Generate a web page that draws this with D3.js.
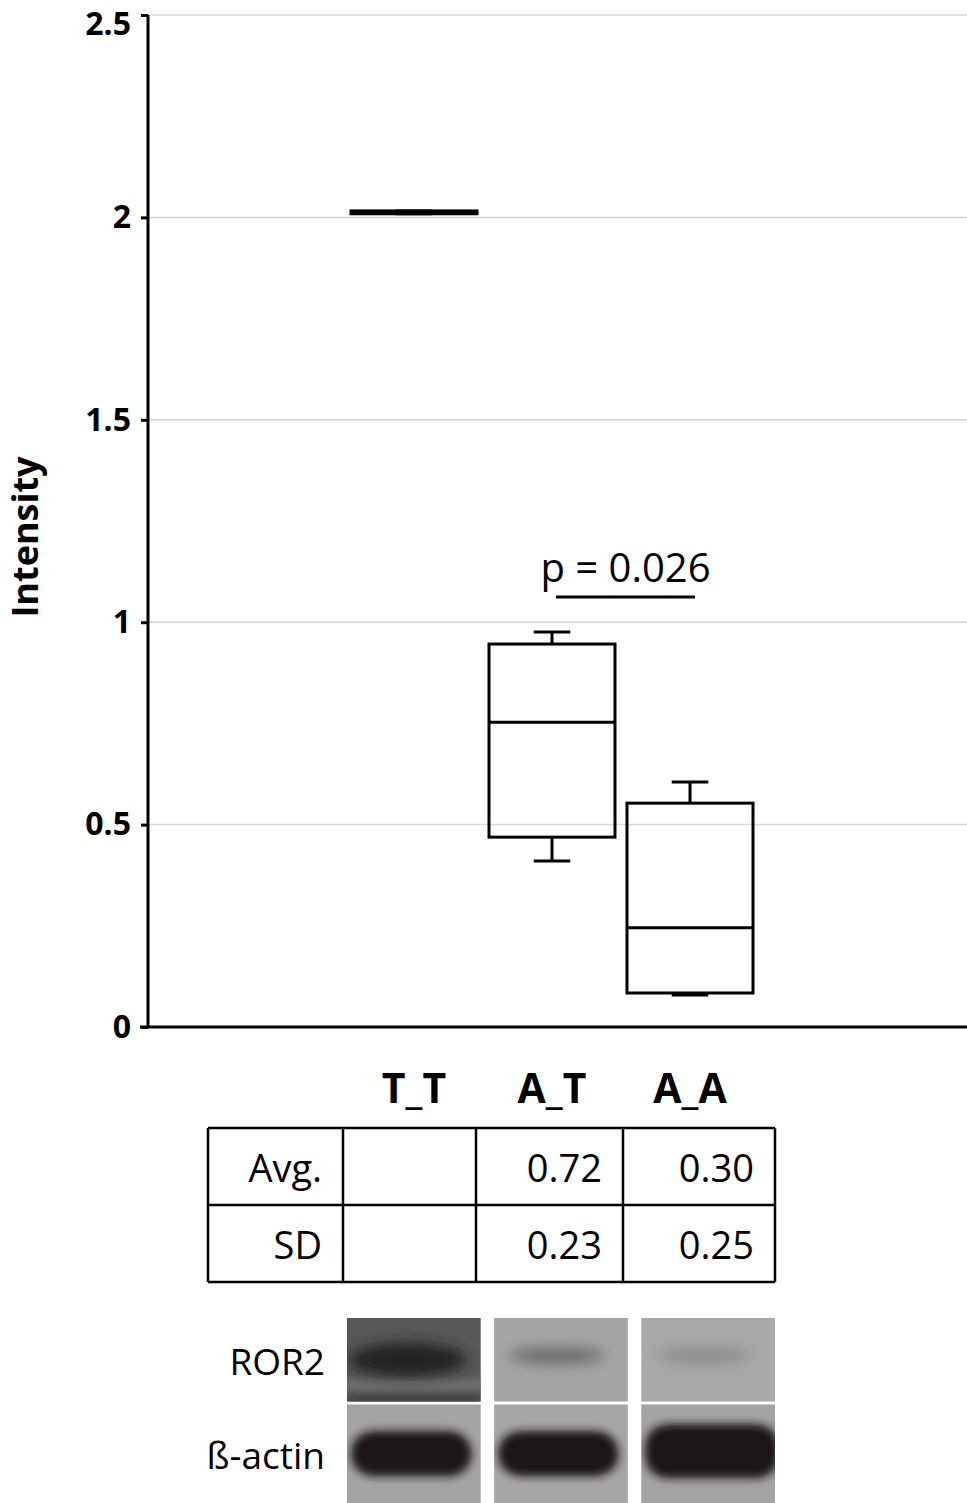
<!DOCTYPE html>
<html>
<head>
<meta charset="utf-8">
<script src="https://cdn.jsdelivr.net/npm/d3@7"></script>
<style>
  body { margin: 0; background: #fff; }
  svg { display: block; font-family: "Open Sans", sans-serif; }
</style>
</head>
<body>
<svg id="chart"></svg>
<script>
// genotype groups and box plot values
var categories = ['T_T', 'A_T', 'A_A'];
var whiskerLow  = [2.009, 0.41, 0.079];
var q1          = [2.009, 0.469, 0.084];
var median      = [2.012, 0.753, 0.245];
var q3          = [2.016, 0.946, 0.553];
var whiskerHigh = [2.016, 0.976, 0.605];

var yTicks = [0, 0.5, 1, 1.5, 2, 2.5];
var yTickLabels = ['0', '0.5', '1', '1.5', '2', '2.5'];

var pValueText = 'p = 0.026';
var pValueLevel = 1.062;

// summary table
var rowLabels = ['Avg.', 'SD'];
var avgValues = ['', '0.72', '0.30'];
var sdValues  = ['', '0.23', '0.25'];

// western blot lanes
var blotRows = ['ROR2', '\u00DF-actin'];
var ror2Bg = ['#585858', '#a4a4a4', '#a9a9a9'];
var ror2Band = [0.8, 0.4, 0.2];
var actinBg = ['#a3a3a3', '#a6a6a6', '#a4a4a4'];
var actinBand = [1, 1, 1];

var W = 967, H = 1503;
var svg = d3.select('#chart').attr('width', W).attr('height', H);

var y = d3.scaleLinear().domain([0, 2.5]).range([1027, 15]);
var x = d3.scaleBand().domain(categories).range([351, 753]).paddingInner(0.087);

var plotLeft = 148, plotRight = 967;

//Gridlines
svg.append('g').selectAll('line')
    .data(yTicks.filter(function(d) { return d > 0; }))
    .enter().append('line')
    .attr('x1', plotLeft).attr('x2', plotRight)
    .attr('y1', function(d) { return y(d); })
    .attr('y2', function(d) { return y(d); })
    .attr('stroke', '#d6d6d6')
    .attr('stroke-width', 1.5);

//Y axis
var yAxis = svg.append('g')
    .attr('transform', 'translate(' + plotLeft + ',0)')
    .call(d3.axisLeft(y)
        .tickValues(yTicks)
        .tickSize(7)
        .tickPadding(10)
        .tickFormat(function(d, i) { return yTickLabels[i]; }));
yAxis.select('.domain').attr('stroke', '#000').attr('stroke-width', 3)
    .attr('d', 'M0,' + y(2.5) + 'V' + y(0));
yAxis.selectAll('.tick line').attr('stroke', '#000').attr('stroke-width', 3);
yAxis.selectAll('.tick text')
    .attr('fill', '#000')
    .style('font-size', '32px')
    .style('font-weight', 'bold')
    .style('font-family', '"Open Sans", sans-serif');
// keep the top label inside the page
yAxis.selectAll('.tick text').filter(function(d) { return d === 2.5; }).attr('dy', '0.6em');

//X axis line
svg.append('line')
    .attr('x1', plotLeft - 8).attr('x2', plotRight)
    .attr('y1', y(0)).attr('y2', y(0))
    .attr('stroke', '#000').attr('stroke-width', 3);

//Y axis title
svg.append('text')
    .attr('transform', 'translate(38,' + ((y(0) + y(2.5)) / 2 + 16) + ') rotate(-90)')
    .attr('text-anchor', 'middle')
    .style('font-size', '36px')
    .style('font-weight', 'bold')
    .text('Intensity');

//Boxes
var boxes = svg.append('g').selectAll('g')
    .data(categories)
    .enter().append('g');

var capW = x.bandwidth() * 0.29;

boxes.append('line') // upper whisker
    .attr('x1', function(d) { return x(d) + x.bandwidth() / 2; })
    .attr('x2', function(d) { return x(d) + x.bandwidth() / 2; })
    .attr('y1', function(d, i) { return y(q3[i]); })
    .attr('y2', function(d, i) { return y(whiskerHigh[i]); });
boxes.append('line') // lower whisker
    .attr('x1', function(d) { return x(d) + x.bandwidth() / 2; })
    .attr('x2', function(d) { return x(d) + x.bandwidth() / 2; })
    .attr('y1', function(d, i) { return y(q1[i]); })
    .attr('y2', function(d, i) { return y(whiskerLow[i]); });
boxes.append('line') // upper cap
    .attr('x1', function(d) { return x(d) + x.bandwidth() / 2 - capW / 2; })
    .attr('x2', function(d) { return x(d) + x.bandwidth() / 2 + capW / 2; })
    .attr('y1', function(d, i) { return y(whiskerHigh[i]); })
    .attr('y2', function(d, i) { return y(whiskerHigh[i]); });
boxes.append('line') // lower cap
    .attr('x1', function(d) { return x(d) + x.bandwidth() / 2 - capW / 2; })
    .attr('x2', function(d) { return x(d) + x.bandwidth() / 2 + capW / 2; })
    .attr('y1', function(d, i) { return y(whiskerLow[i]); })
    .attr('y2', function(d, i) { return y(whiskerLow[i]); });
boxes.append('rect')
    .attr('x', function(d) { return x(d); })
    .attr('width', x.bandwidth())
    .attr('y', function(d, i) { return y(q3[i]); })
    .attr('height', function(d, i) { return y(q1[i]) - y(q3[i]); })
    .attr('fill', 'none');
boxes.append('line') // median
    .attr('x1', function(d) { return x(d); })
    .attr('x2', function(d) { return x(d) + x.bandwidth(); })
    .attr('y1', function(d, i) { return y(median[i]); })
    .attr('y2', function(d, i) { return y(median[i]); });
boxes.selectAll('line, rect').attr('stroke', '#000').attr('stroke-width', 3);

//p value bracket between A_T and A_A
var pX1 = x('A_T') + x.bandwidth() / 2 + 4;
var pX2 = x('A_A') + x.bandwidth() / 2 + 5;
svg.append('line')
    .attr('x1', pX1).attr('x2', pX2)
    .attr('y1', y(pValueLevel)).attr('y2', y(pValueLevel))
    .attr('stroke', '#000').attr('stroke-width', 3);
svg.append('text')
    .attr('x', (pX1 + pX2) / 2)
    .attr('y', y(pValueLevel) - 15)
    .attr('text-anchor', 'middle')
    .style('font-size', '40px')
    .text(pValueText);

//Category labels
svg.append('g').selectAll('text')
    .data(categories)
    .enter().append('text')
    .attr('x', function(d) { return x(d) + x.bandwidth() / 2; })
    .attr('y', 1103)
    .attr('text-anchor', 'middle')
    .style('font-size', '41px')
    .style('font-weight', 'bold')
    .text(function(d) { return d; });

//Table
var colEdges = [208, 343, 476, 623, 775];
var rowEdges = [1128, 1205, 1282];
var table = svg.append('g');
table.selectAll('line.v')
    .data(colEdges).enter().append('line')
    .attr('x1', function(d) { return d; }).attr('x2', function(d) { return d; })
    .attr('y1', rowEdges[0]).attr('y2', rowEdges[rowEdges.length - 1]);
table.selectAll('line.h')
    .data(rowEdges).enter().append('line')
    .attr('x1', colEdges[0]).attr('x2', colEdges[colEdges.length - 1])
    .attr('y1', function(d) { return d; }).attr('y2', function(d) { return d; });
table.selectAll('line').attr('stroke', '#000').attr('stroke-width', 2.5);

var tableRows = [[rowLabels[0]].concat(avgValues), [rowLabels[1]].concat(sdValues)];
tableRows.forEach(function(row, r) {
    table.selectAll('text.r' + r)
        .data(row).enter().append('text')
        .attr('x', function(d, c) { return colEdges[c + 1] - 21; })
        .attr('y', rowEdges[r] + 54)
        .attr('text-anchor', 'end')
        .style('font-size', '38px')
        .text(function(d) { return d; });
});

//Western blot
var lanes = d3.scaleBand().domain(categories).range([347, 775]).paddingInner(0.09);
var rows = d3.scaleBand().domain(blotRows).range([1318, 1488]).paddingInner(0.03);

var defs = svg.append('defs');
defs.append('filter').attr('id', 'blurSoft').attr('x', '-30%').attr('y', '-80%')
    .attr('width', '160%').attr('height', '260%')
    .append('feGaussianBlur').attr('stdDeviation', 7);
defs.append('filter').attr('id', 'blurHard').attr('x', '-30%').attr('y', '-80%')
    .attr('width', '160%').attr('height', '260%')
    .append('feGaussianBlur').attr('stdDeviation', 4);

categories.forEach(function(c, i) {
    blotRows.forEach(function(rName, r) {
        var id = 'clip' + i + r;
        var bx = lanes(c), by = rows(rName), bw = lanes.bandwidth();
        // the lower row runs off the bottom of the figure
        var bh = r === 0 ? rows.bandwidth() : H - by;
        defs.append('clipPath').attr('id', id).append('rect')
            .attr('x', bx).attr('y', by).attr('width', bw).attr('height', bh);
        var g = svg.append('g').attr('clip-path', 'url(#' + id + ')');
        var bg = r === 0 ? ror2Bg[i] : actinBg[i];
        g.append('rect').attr('x', bx).attr('y', by).attr('width', bw).attr('height', bh).attr('fill', bg);
        if (r === 0) {
            var bandCol = d3.interpolateRgb(bg, '#161616')(ror2Band[i]);
            if (i === 0) {
                // heavy lane: lighter gap under the band, dark lower edge
                g.append('rect').attr('x', bx - 10).attr('y', by + bh * 0.74).attr('width', bw + 20).attr('height', bh * 0.12)
                    .attr('fill', '#727272').attr('filter', 'url(#blurHard)');
                g.append('rect').attr('x', bx).attr('y', by + bh * 0.93).attr('width', bw).attr('height', bh * 0.1)
                    .attr('fill', '#3c3c3c').attr('filter', 'url(#blurHard)');
            }
            g.append('ellipse')
                .attr('cx', bx + bw * (i === 0 ? 0.45 : 0.47))
                .attr('cy', by + bh * (i === 0 ? 0.5 : 0.45))
                .attr('rx', bw * (i === 0 ? 0.44 : 0.36))
                .attr('ry', bh * (i === 0 ? 0.2 : 0.1))
                .attr('fill', bandCol)
                .attr('filter', 'url(#blurSoft)');
        } else {
            var blobCol = d3.interpolateRgb(bg, '#1e1212')(actinBand[i]);
            g.append('rect')
                .attr('x', bx + bw * 0.03).attr('y', by + bh * (i === 2 ? 0.2 : 0.27))
                .attr('width', bw * (i === 2 ? 1.0 : 0.9)).attr('height', bh * (i === 2 ? 0.55 : 0.46))
                .attr('rx', bh * 0.24).attr('ry', bh * 0.22)
                .attr('fill', blobCol)
                .attr('filter', 'url(#blurHard)');
        }
    });
});

svg.append('g').selectAll('text')
    .data(blotRows).enter().append('text')
    .attr('x', 325)
    .attr('y', function(d, r) { return rows(d) + (r === 0 ? rows.bandwidth() : H - rows(d)) / 2 + 15; })
    .attr('text-anchor', 'end')
    .style('font-size', '37px')
    .text(function(d) { return d; });
</script>
</body>
</html>
